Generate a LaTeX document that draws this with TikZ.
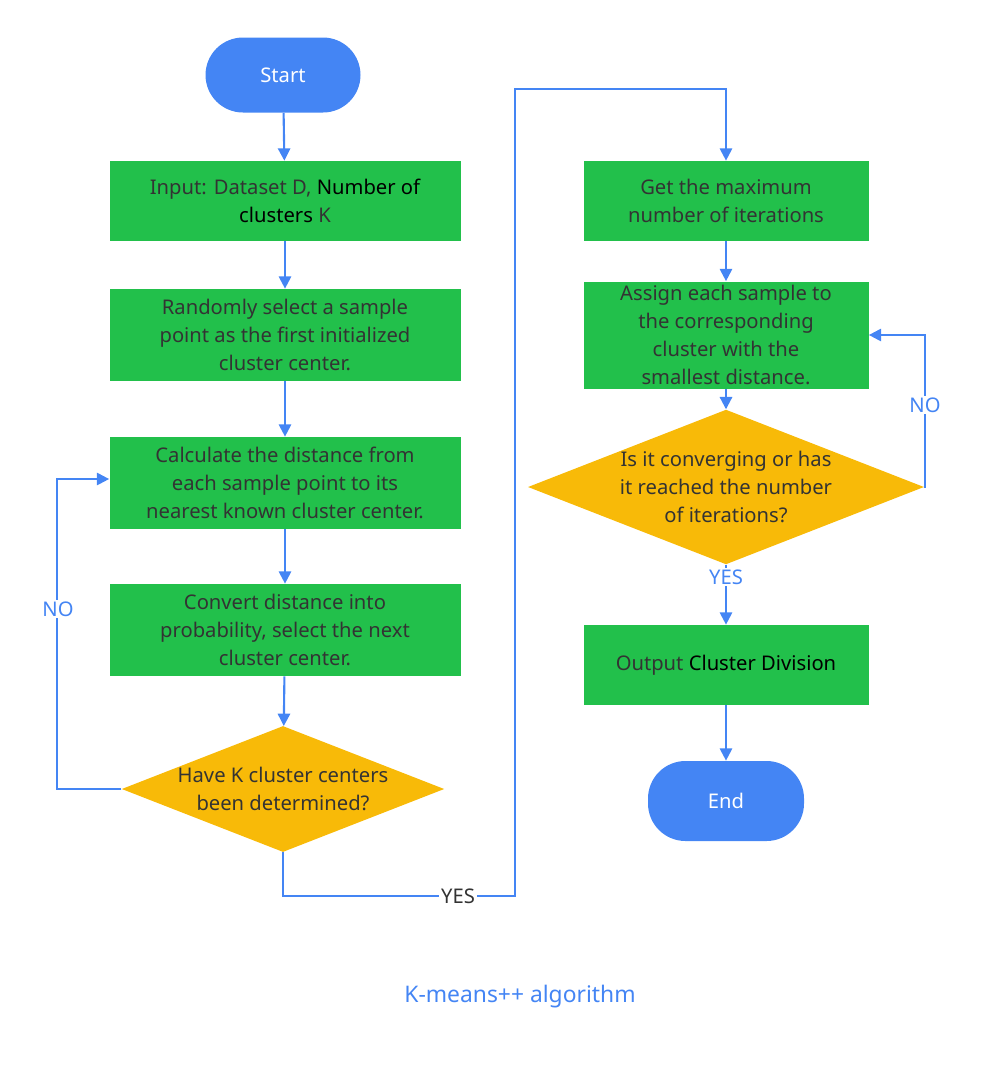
\documentclass[tikz,border=0pt]{standalone}
\usepackage{fontspec}
\setmainfont{Noto Sans}
\usepackage{xcolor}
\usetikzlibrary{arrows.meta,shapes.geometric,calc}
\definecolor{flowblue}{HTML}{4485F4}
\definecolor{flowgreen}{HTML}{22C04B}
\definecolor{flowyellow}{HTML}{F8BA08}
\definecolor{flowtext}{HTML}{333333}

\tikzset{
    box/.style={fill=flowgreen, text=flowtext, align=center, minimum width=351*0.02cm,
        inner sep=0pt, font=\fontsize{11.5}{16}\selectfont},
    term/.style={fill=flowblue, text=white, rounded corners=0.75cm, inner sep=0pt,
        font=\fontsize{11.5}{14}\selectfont\bfseries},
    decision/.style={diamond, fill=flowyellow, text=flowtext, align=center, inner sep=0pt,
        aspect=2.56, font=\fontsize{11.5}{16}\selectfont},
    link/.style={flowblue, line width=1.2pt, -{Triangle[length=7pt,width=7pt]}},
    lbl/.style={fill=white, inner sep=1pt, font=\fontsize{11.5}{14}\selectfont}
}

\begin{document}
\begin{tikzpicture}[x=0.02cm, y=-0.02cm]
        \useasboundingbox (0,0) rectangle (981,1066);

        % left column
        \node [term, minimum width=155*0.02cm, minimum height=75*0.02cm] (start) at (283,75) {Start};
        \node [box, minimum height=80*0.02cm] (input) at (285,201)
            {Input: Dataset D, \textcolor{black}{Number of}\\\textcolor{black}{clusters} K};
        \node [box, minimum height=92*0.02cm] (first) at (285,335)
            {Randomly select a sample\\point as the first initialized\\cluster center.};
        \node [box, minimum height=92*0.02cm] (dist) at (285,483)
            {Calculate the distance from\\each sample point to its\\nearest known cluster center.};
        \node [box, minimum height=92*0.02cm] (prob) at (285,630)
            {Convert distance into\\probability, select the next\\cluster center.};
        \node [decision, minimum width=315*0.02cm, minimum height=123*0.02cm] (kdone) at (283,789)
            {Have K cluster centers\\been determined?};

        % right column
        \node [box, minimum width=285*0.02cm, minimum height=80*0.02cm] (maxit) at (726,201)
            {Get the maximum\\number of iterations};
        \node [box, minimum width=285*0.02cm, minimum height=107*0.02cm] (assign) at (726,335)
            {Assign each sample to\\the corresponding\\cluster with the\\smallest distance.};
        \node [decision, minimum width=283*0.02cm, minimum height=122*0.02cm] (conv) at (726,487)
            {Is it converging or has\\it reached the number\\of iterations?};
        \node [box, minimum width=285*0.02cm, minimum height=80*0.02cm] (output) at (726,665)
            {Output \textcolor{black}{Cluster Division}};
        \node [term, minimum width=156*0.02cm, minimum height=80*0.02cm] (end) at (726,801) {End};

        \node [text=flowblue, font=\fontsize{13}{16}\selectfont\bfseries] (title) at (520,997)
            {K-means++ algorithm};

        \draw [link] (start) -- (input);
        \draw [link] (input) -- (first);
        \draw [link] (first) -- (dist);
        \draw [link] (dist) -- (prob);
        \draw [link] (prob) -- (kdone);
        \draw [link] (kdone.west) -| (57,479) -- ($(dist.west)+(0,-4)$);
        \node [lbl, text=flowblue] at (58,609) {NO};
        \draw [link] (kdone.south) |- (515,896) |- (726,89) -- (maxit.north);
        \node [lbl, text=flowtext] at (458,896) {YES};

        \draw [link] (maxit) -- (assign);
        \draw [link] (assign) -- (conv);
        \draw [link] (conv.east) -| (925,335) -- (assign.east);
        \node [lbl, text=flowblue] at (925,405) {NO};
        \draw [link] (conv) -- (output);
        \node [lbl, text=flowblue] at (726,577) {YES};
        \draw [link] (output) -- (end);
    \end{tikzpicture}
\end{document}
